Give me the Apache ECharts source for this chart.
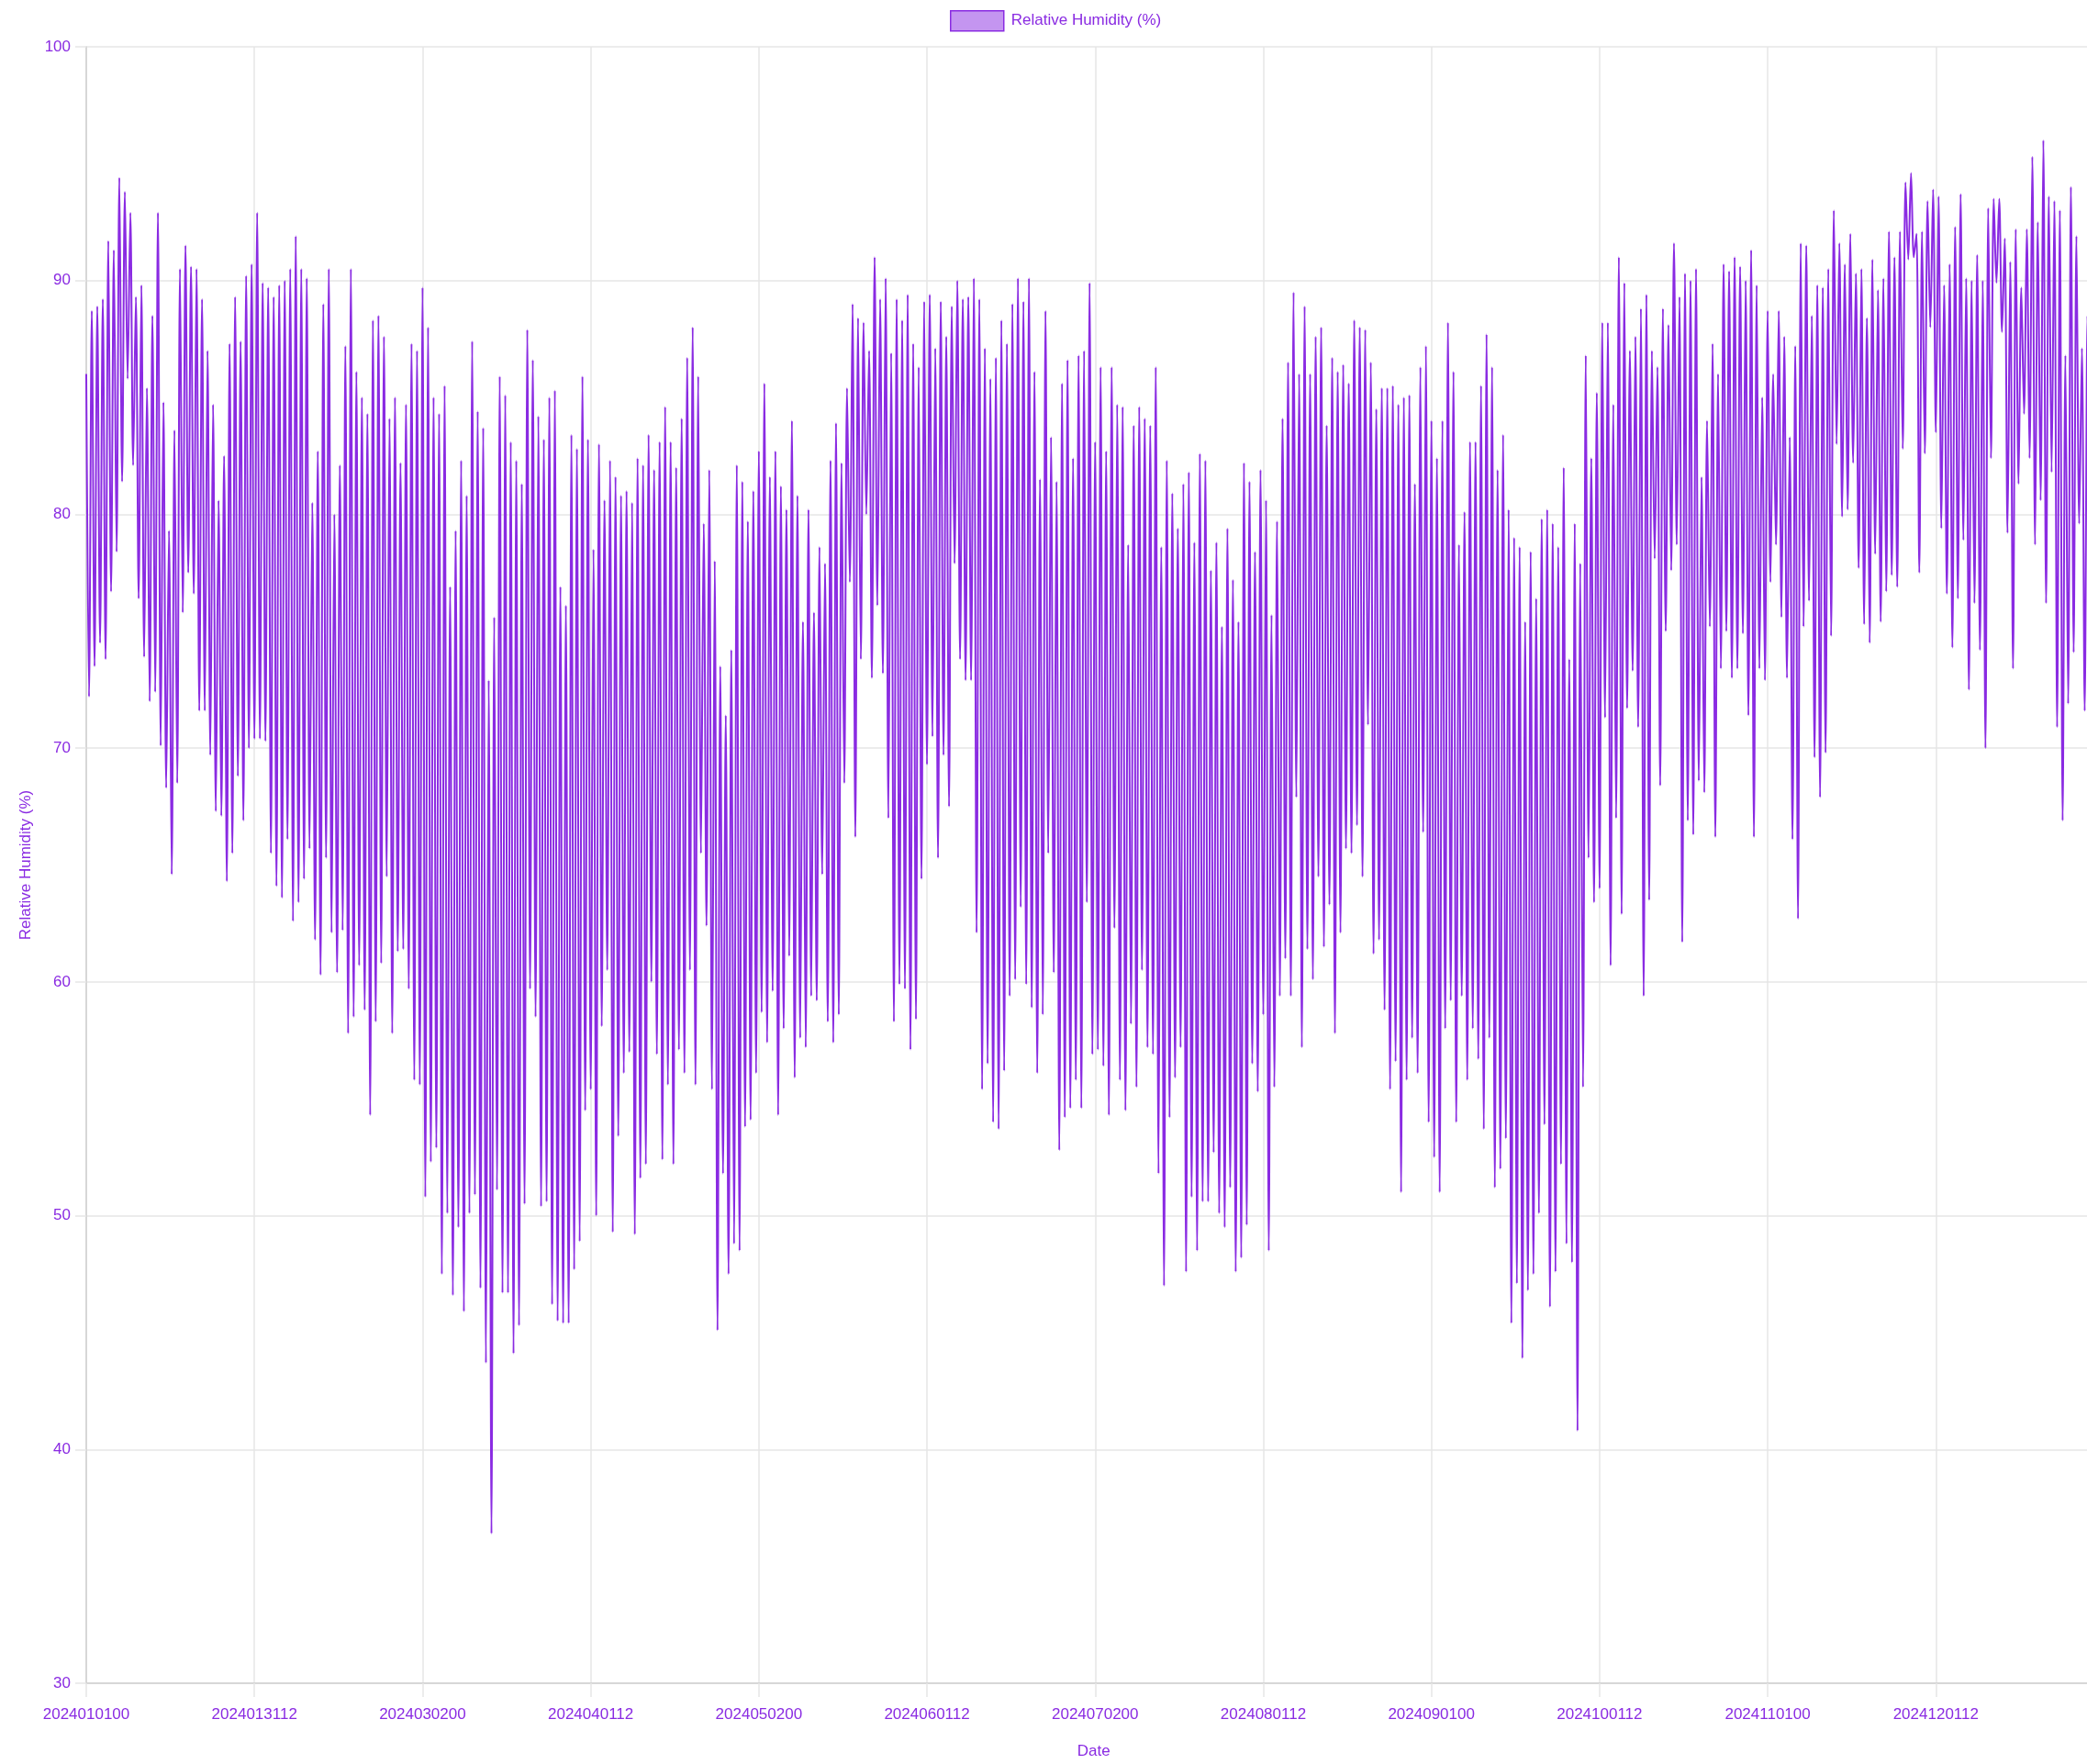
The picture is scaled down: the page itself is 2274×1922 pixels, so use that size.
<!DOCTYPE html>
<html>
<head>
<meta charset="utf-8">
<title>Relative Humidity (%)</title>
<script src="https://cdn.jsdelivr.net/npm/echarts@6.0.0/dist/echarts.min.js"></script>
<style>
  html, body { margin: 0; padding: 0; overflow: hidden; background: #fff; }
  /* the original canvas was a bit wider than the window, the right edge is cut off */
  #chart { width: 2304px; height: 1922px; }
</style>
</head>
<body>
<div id="chart"></div>
<script>
// relative humidity, two readings per day (00 and 12 h), one array per month
const jan = [86, 72.2, 88.7, 73.5, 88.9, 74.5, 89.2, 73.8, 91.7, 76.7,
  91.3, 78.4, 94.4, 81.4, 93.8, 85.8, 92.9, 82.1, 89.3, 76.4,
  89.8, 73.9, 85.4, 72.0, 88.5, 72.4, 92.9, 70.1, 84.8, 68.3,
  79.3, 64.6, 83.6, 68.5, 90.5, 75.8, 91.5, 77.5, 90.6, 76.6,
  90.5, 71.6, 89.2, 71.6, 87.0, 69.7, 84.7, 67.3, 80.6, 67.1,
  82.5, 64.3, 87.3, 65.5, 89.3, 68.8, 87.4, 66.9, 90.2, 70.0,
  90.7, 70.4]
const feb = [92.9, 70.4, 89.9, 70.3, 89.7, 65.5, 89.3, 64.1, 89.8, 63.6,
  90.0, 66.1, 90.5, 62.6, 91.9, 63.4, 90.5, 64.4, 90.1, 65.7,
  80.5, 61.8, 82.7, 60.3, 89.0, 65.3, 90.5, 62.1, 80.0, 60.4,
  82.1, 62.2, 87.2, 57.8, 90.5, 58.5, 86.1, 60.7, 85.0, 58.8,
  84.3, 54.3, 88.3, 58.3, 88.5, 60.8, 87.6, 64.5, 84.1, 57.8,
  85.0, 61.3, 82.2, 61.4, 84.7, 59.7, 87.3, 55.8]
const mar = [87.0, 55.6, 89.7, 50.8, 88.0, 52.3, 85.0, 52.9, 84.3, 47.5,
  85.5, 50.1, 76.9, 46.6, 79.3, 49.5, 82.3, 45.9, 80.8, 50.1,
  87.4, 50.9, 84.4, 46.9, 83.7, 43.7, 72.9, 36.4, 75.6, 51.1,
  85.9, 46.7, 85.1, 46.7, 83.1, 44.1, 82.3, 45.3, 81.3, 50.5,
  87.9, 59.7, 86.6, 58.5, 84.2, 50.4, 83.2, 50.6, 85.0, 46.2,
  85.3, 45.5, 76.9, 45.4, 76.1, 45.4, 83.4, 47.7, 82.8, 48.9,
  85.9, 54.5]
const apr = [83.2, 55.4, 78.5, 50.0, 83.0, 58.1, 80.6, 60.5,
  82.3, 49.3, 81.6, 53.4, 80.8, 56.1, 81.0, 57.0, 80.5, 49.2,
  82.4, 51.6, 82.1, 52.2, 83.4, 60.0, 81.9, 56.9, 83.1, 52.4,
  84.6, 55.6, 83.1, 52.2, 82.0, 57.1, 84.1, 56.1, 86.7, 60.5,
  88.0, 55.6, 85.9, 65.5, 79.6, 62.4, 81.9, 55.4, 78.0, 45.1,
  73.5, 51.8, 71.4, 47.5, 74.2, 48.8, 82.1, 48.5, 81.4, 53.8,
  79.7, 54.1]
const may = [81.0, 56.1, 82.7, 58.7, 85.6, 57.4, 81.6, 59.6,
  82.7, 54.3, 81.2, 58.0, 80.2, 61.1, 84.0, 55.9, 80.8, 57.6,
  75.4, 57.2, 80.2, 59.4, 75.8, 59.2, 78.6, 64.6, 77.9, 58.3,
  82.3, 57.4, 83.9, 58.6, 82.2, 68.5, 85.4, 77.1, 89.0, 66.2,
  88.4, 73.8, 88.2, 80.0, 87.0, 73.0, 91.0, 76.1, 89.2, 73.2,
  90.1, 67.0, 86.9, 58.3, 89.2, 59.9, 88.3, 59.7, 89.4, 57.1,
  87.3, 58.4, 86.3, 64.4]
const jun = [89.1, 69.3, 89.4, 70.5, 87.1, 65.3,
  89.1, 69.7, 87.6, 67.5, 88.9, 77.9, 90.0, 73.8, 89.2, 72.9,
  89.3, 72.9, 90.1, 62.1, 89.2, 55.4, 87.1, 56.5, 85.8, 54.0,
  86.7, 53.7, 88.3, 56.2, 87.3, 59.4, 89.0, 60.1, 90.1, 63.2,
  89.1, 59.9, 90.1, 58.9, 86.1, 56.1, 81.5, 58.6, 88.7, 65.5,
  83.3, 60.4, 81.4, 52.8, 85.6, 54.2, 86.6, 54.6, 82.4, 55.8,
  86.8, 54.6, 87.0, 63.4]
const jul = [89.9, 56.9, 83.1, 57.1, 86.3, 56.4,
  82.7, 54.3, 86.3, 62.3, 84.7, 55.8, 84.6, 54.5, 78.7, 58.2,
  83.8, 55.5, 84.6, 60.5, 84.1, 57.2, 83.8, 56.9, 86.3, 51.8,
  78.6, 47.0, 82.3, 54.2, 80.9, 55.9, 79.4, 57.2, 81.3, 47.6,
  81.8, 50.8, 78.8, 48.5, 82.6, 50.6, 82.3, 50.6, 77.6, 52.7,
  78.8, 50.1, 75.2, 49.5, 79.4, 51.2, 77.2, 47.6, 75.4, 48.2,
  82.2, 49.6, 81.4, 56.5, 78.4, 55.3]
const aug = [81.9, 58.6, 80.6, 48.5,
  75.7, 55.5, 79.7, 59.4, 84.1, 61.0, 86.5, 59.4, 89.5, 67.9,
  86.0, 57.2, 88.9, 61.4, 86.0, 60.1, 87.6, 64.5, 88.0, 61.5,
  83.8, 63.3, 86.7, 57.8, 86.1, 62.1, 86.4, 65.7, 85.6, 65.5,
  88.3, 66.7, 88.0, 64.5, 87.9, 71.0, 86.5, 61.2, 84.5, 61.8,
  85.4, 58.8, 85.4, 55.4, 85.5, 56.6, 84.7, 51.0, 85.0, 55.8,
  85.1, 57.6, 81.3, 56.1, 86.3, 66.4, 87.2, 54.0]
const sep = [84.0, 52.5,
  82.4, 51.0, 84.0, 58.0, 88.2, 59.2, 86.1, 54.0, 78.7, 59.4,
  80.1, 55.8, 83.1, 58.0, 83.1, 56.7, 85.5, 53.7, 87.7, 57.6,
  86.3, 51.2, 81.9, 52.0, 83.4, 53.3, 80.2, 45.4, 79.0, 47.1,
  78.6, 43.9, 75.4, 46.8, 78.4, 47.5, 76.4, 50.1, 79.8, 53.9,
  80.2, 46.1, 79.6, 47.6, 78.6, 52.2, 82.0, 48.8, 73.8, 48.0,
  79.6, 40.8, 77.9, 55.5, 86.8, 65.3, 82.4, 63.4]
const oct = [85.2, 64.0,
  88.2, 71.3, 88.2, 60.7, 84.7, 67.0, 91.0, 62.9, 89.9, 71.7,
  87.0, 73.3, 87.6, 70.9, 88.8, 59.4, 89.4, 63.5, 87.0, 78.1,
  86.3, 68.4, 88.8, 75.0, 88.1, 77.6, 91.6, 78.7, 89.3, 61.7,
  90.3, 66.9, 90.0, 66.3, 90.5, 68.6, 81.6, 68.1, 84.0, 75.2,
  87.3, 66.2, 86.0, 73.4, 90.7, 75.0, 90.4, 73.0, 91.0, 73.4,
  90.6, 74.9, 90.0, 71.4, 91.3, 66.2, 89.8, 73.4, 85.0, 72.9]
const nov = [88.7, 77.1, 86.0, 78.7, 88.7, 75.6, 87.6, 73.0, 83.3, 66.1,
  87.2, 62.7, 91.6, 75.2, 91.5, 76.3, 88.5, 69.6, 89.8, 67.9,
  89.7, 69.8, 90.5, 74.8, 93.0, 83.0, 91.6, 79.9, 90.7, 80.2,
  92.0, 82.2, 90.3, 77.7, 90.5, 75.3, 88.4, 74.5, 90.9, 78.3,
  89.6, 75.4, 90.1, 76.7, 92.1, 77.4, 91.0, 76.9, 92.1, 82.8,
  94.2, 90.9, 94.6, 91.0, 92.0, 77.5, 92.1, 82.6, 93.4, 88.0]
const dec = [93.9, 83.5, 93.6, 79.4, 89.8, 76.6, 90.7, 74.3, 92.3, 76.4,
  93.7, 78.9, 90.1, 72.5, 90.0, 76.2, 91.1, 74.2, 90.0, 70.0,
  93.1, 82.4, 93.5, 89.9, 93.5, 87.8, 91.8, 79.2, 90.8, 73.4,
  92.2, 81.3, 89.7, 84.3, 92.2, 82.4, 95.3, 78.7, 92.5, 80.6,
  96.0, 76.2, 93.6, 81.8, 93.4, 70.9, 93.0, 66.9, 86.8, 71.9,
  94.0, 74.1, 91.9, 79.6, 87.1, 71.6, 88.5, 74.0, 89.0, 76.0,
  90.5, 78.0]

const humidity = [].concat(jan, feb, mar, apr, may, jun, jul, aug, sep, oct, nov, dec)

// category labels YYYYMMDDHH, every 12 hours from 2024-01-01 00h
const pad = n => String(n).padStart(2, '0')
const dates = []
const t0 = Date.UTC(2024, 0, 1, 0)
for (let i = 0; i < humidity.length; i++) {
  const d = new Date(t0 + i * 12 * 3600 * 1000)
  dates.push('' + d.getUTCFullYear() + pad(d.getUTCMonth() + 1) + pad(d.getUTCDate()) + pad(d.getUTCHours()))
}

const PURPLE = '#8a2be2'
const FONT = '"Liberation Sans", Arial, sans-serif'
const gridColor = '#e6e6e6'

const chart = echarts.init(document.getElementById('chart'))
chart.setOption({
  animation: false,
  textStyle: { fontFamily: FONT },
  legend: {
    left: 1030,
    top: 6,
    icon: 'rect',
    itemWidth: 58,
    itemHeight: 22,
    itemStyle: { color: 'rgba(138,43,226,0.5)', borderColor: PURPLE, borderWidth: 1.5 },
    textStyle: { color: PURPLE, fontSize: 17, padding: [0, 0, 0, 3] }
  },
  grid: { left: 94, right: 14.5, top: 51, bottom: 86 },
  xAxis: {
    type: 'category',
    data: dates,
    boundaryGap: false,
    name: 'Date',
    nameLocation: 'middle',
    nameGap: 66,
    nameTextStyle: { color: PURPLE, fontSize: 17 },
    axisLine: { lineStyle: { color: '#d0d0d0', width: 1.5 } },
    axisTick: { interval: 60, length: 15, lineStyle: { color: gridColor, width: 1.5 } },
    axisLabel: { interval: 60, color: PURPLE, fontSize: 17, margin: 26 },
    splitLine: { show: true, interval: 60, lineStyle: { color: gridColor, width: 1.5 } }
  },
  yAxis: {
    type: 'value',
    min: 30,
    max: 100,
    interval: 10,
    name: 'Relative Humidity (%)',
    nameLocation: 'middle',
    nameGap: 57,
    nameTextStyle: { color: PURPLE, fontSize: 17 },
    axisLine: { show: true, lineStyle: { color: '#d0d0d0', width: 1.5 } },
    axisTick: { show: true, length: 12, lineStyle: { color: gridColor, width: 1.5 } },
    axisLabel: { color: PURPLE, fontSize: 17, margin: 17 },
    splitLine: { lineStyle: { color: gridColor, width: 1.5 } }
  },
  series: [{
    name: 'Relative Humidity (%)',
    type: 'line',
    data: humidity,
    showSymbol: false,
    smooth: 0.3,
    lineStyle: { color: PURPLE, width: 2 },
    itemStyle: { color: PURPLE }
  }]
})
</script>
</body>
</html>
